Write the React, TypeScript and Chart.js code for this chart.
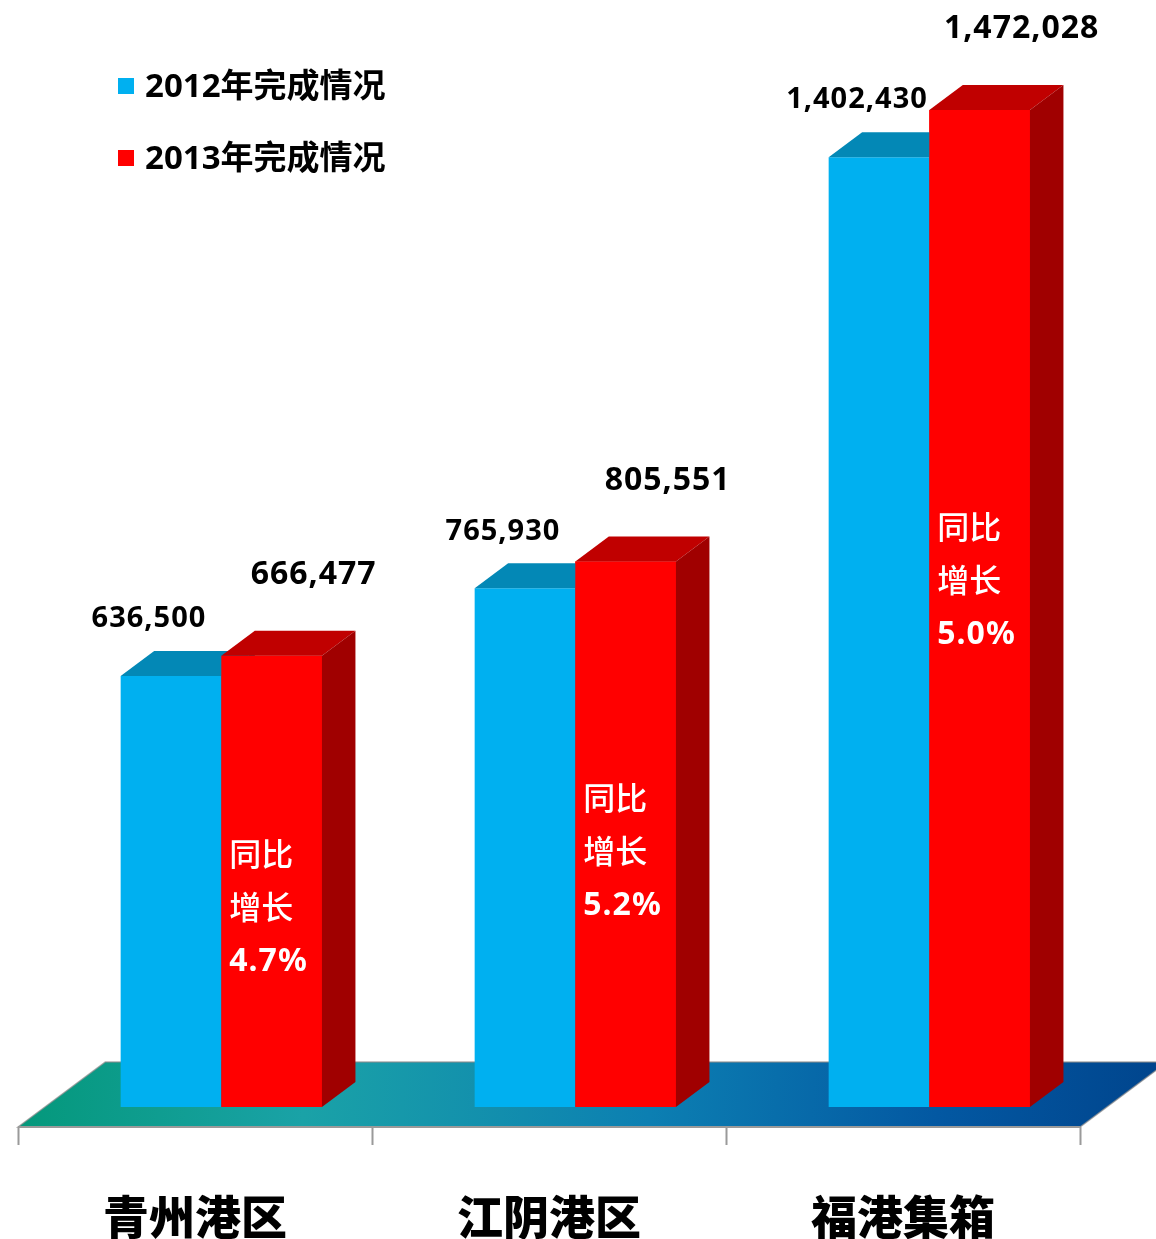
import React, { useEffect, useRef } from 'react';
import { Chart, registerables } from 'chart.js';

Chart.register(...registerables);

// ---- data ----
const categories = ['青州港区', '江阴港区', '福港集箱'];
const seriesNames = ['2012年完成情况', '2013年完成情况'];
const values2012 = [636500, 765930, 1402430];
const values2013 = [666477, 805551, 1472028];
const growthWords = ['同比', '增长'];
const growthRates = ['4.7%', '5.2%', '5.0%'];

// ---- styles ----
const frontColors = ['#00B0F0', '#FF0000'];
const topColors = ['#0388B6', '#C00000'];
const sideColors = ['#00749C', '#A00000'];
const DEPTH = { x: 33.5, y: -25 };
const FLOOR_FRONT = { x: -26.3, y: 20 };
const FLOOR_BACK = { x: 61, y: -45 };
const NUM_FONT = '"Noto Sans", "Noto Sans CJK SC", sans-serif';
const CJK_FONT = '"Noto Sans CJK SC", "Noto Sans", sans-serif';

const fmt = (v: number) => v.toLocaleString('en-US');

const pseudo3d = {
  id: 'pseudo3d',
  beforeDatasetsDraw(chart: any) {
    const { ctx, chartArea, scales } = chart;
    const y0 = scales.y.getPixelForValue(0);
    const l = chartArea.left;
    const r = chartArea.right;
    const fl = l + FLOOR_FRONT.x, fr = r + FLOOR_FRONT.x, fy = y0 + FLOOR_FRONT.y;
    const bl = l + FLOOR_BACK.x, br = r + FLOOR_BACK.x, by = y0 + FLOOR_BACK.y;
    ctx.save();
    const g = ctx.createLinearGradient(fl, by, br, fy);
    g.addColorStop(0, '#04987A');
    g.addColorStop(0.25, '#1AA2A7');
    g.addColorStop(0.55, '#0C7FB2');
    g.addColorStop(0.8, '#0358A2');
    g.addColorStop(1, '#00448C');
    ctx.beginPath();
    ctx.moveTo(fl, fy);
    ctx.lineTo(bl, by);
    ctx.lineTo(br, by);
    ctx.lineTo(fr, fy);
    ctx.closePath();
    ctx.fillStyle = g;
    ctx.fill();
    ctx.strokeStyle = 'rgba(140,140,140,0.7)';
    ctx.lineWidth = 1.5;
    ctx.stroke();
    // front edge + ticks
    ctx.strokeStyle = '#9a9a9a';
    ctx.lineWidth = 2;
    ctx.beginPath();
    ctx.moveTo(fl, fy);
    ctx.lineTo(fr, fy);
    const n = categories.length;
    const w = (r - l) / n;
    for (let i = 0; i <= n; i++) {
      const x = Math.round(fl + i * w) + 0.5;
      ctx.moveTo(x, fy);
      ctx.lineTo(x, fy + 18);
    }
    ctx.stroke();
    // category labels
    ctx.fillStyle = '#000';
    ctx.font = `900 46px ${CJK_FONT}`;
    ctx.textAlign = 'center';
    ctx.textBaseline = 'middle';
    chart.data.labels.forEach((lab: string, i: number) => {
      const x = scales.x.getPixelForTick(i) + FLOOR_FRONT.x;
      ctx.fillText(lab, x, y0 + 110);
    });
    ctx.restore();
  },
  afterDatasetsDraw(chart: any) {
    const { ctx, scales, chartArea } = chart;
    ctx.save();
    // 3D faces: blue first, then red (front re-painted on top)
    [0, 1].forEach((di) => {
      const meta = chart.getDatasetMeta(di);
      meta.data.forEach((bar: any) => {
        if (di === 1) bar.draw(ctx, chartArea);
        const w = bar.width;
        const left = bar.x - w / 2;
        const right = bar.x + w / 2;
        const top = bar.y;
        const bottom = bar.base;
        ctx.beginPath();
        ctx.moveTo(left, top);
        ctx.lineTo(left + DEPTH.x, top + DEPTH.y);
        ctx.lineTo(right + DEPTH.x, top + DEPTH.y);
        ctx.lineTo(right, top);
        ctx.closePath();
        ctx.fillStyle = topColors[di];
        ctx.fill();
        ctx.beginPath();
        ctx.moveTo(right, top);
        ctx.lineTo(right + DEPTH.x, top + DEPTH.y);
        ctx.lineTo(right + DEPTH.x, bottom + DEPTH.y);
        ctx.lineTo(right, bottom);
        ctx.closePath();
        ctx.fillStyle = sideColors[di];
        ctx.fill();
      });
    });

    ctx.textBaseline = 'middle';
    // value labels
    const m0 = chart.getDatasetMeta(0);
    const m1 = chart.getDatasetMeta(1);
    ctx.fillStyle = '#000';
    ctx.textAlign = 'center';
    (ctx as any).letterSpacing = '1px';
    ctx.font = `bold 29px ${NUM_FONT}`;
    m0.data.forEach((bar: any, i: number) => {
      ctx.fillText(fmt(values2012[i]), bar.x - 22, bar.y - 57);
    });
    ctx.font = `bold 32px ${NUM_FONT}`;
    m1.data.forEach((bar: any, i: number) => {
      ctx.fillText(fmt(values2013[i]), bar.x + 42, bar.y - 81);
    });
    // growth notes inside red bars
    ctx.fillStyle = '#fff';
    ctx.textAlign = 'left';
    m1.data.forEach((bar: any, i: number) => {
      const left = bar.x - bar.width / 2 + 8;
      const top = scales.y.getPixelForValue(values2013[i] * 0.6);
      (ctx as any).letterSpacing = '0px';
      ctx.font = `500 32px ${CJK_FONT}`;
      ctx.fillText(growthWords[0], left, top + 18);
      ctx.fillText(growthWords[1], left, top + 71);
      (ctx as any).letterSpacing = '1px';
      ctx.font = `bold 32px ${NUM_FONT}`;
      ctx.fillText(growthRates[i], left, top + 126);
    });
    // legend
    (ctx as any).letterSpacing = '0px';
    const legendY = [86, 158];
    chart.data.datasets.forEach((ds: any, i: number) => {
      ctx.fillStyle = ds.backgroundColor;
      ctx.fillRect(118, legendY[i] - 8, 16, 16);
      ctx.fillStyle = '#000';
      ctx.font = `bold 33px ${NUM_FONT}`;
      ctx.textAlign = 'left';
      ctx.fillText(ds.label, 145, legendY[i] + 2);
    });
    ctx.restore();
  },
};

export default function App() {
  const ref = useRef<HTMLCanvasElement | null>(null);
  useEffect(() => {
    if (!ref.current) return;
    const chart = new Chart(ref.current, {
      type: 'bar',
      data: {
        labels: categories,
        datasets: [
          {
            label: seriesNames[0],
            data: values2012,
            backgroundColor: frontColors[0],
            borderWidth: 0,
            categoryPercentage: 0.5686,
            barPercentage: 1,
          },
          {
            label: seriesNames[1],
            data: values2013,
            backgroundColor: frontColors[1],
            borderWidth: 0,
            categoryPercentage: 0.5686,
            barPercentage: 1,
          },
        ],
      },
      options: {
        responsive: false,
        maintainAspectRatio: false,
        devicePixelRatio: 1,
        animation: false,
        layout: { padding: { left: 44.3, right: 49.7, top: 23.4, bottom: 132 } },
        scales: {
          x: { display: false },
          y: { display: false, min: 0, max: 1600000 },
        },
        plugins: {
          legend: { display: false },
          tooltip: { enabled: false },
        },
      },
      plugins: [pseudo3d],
    } as any);
    return () => chart.destroy();
  }, []);
  return (
    <div style={{ position: 'fixed', left: 0, top: 0, width: 1156, height: 1239, background: '#fff' }}>
      <canvas ref={ref} width={1156} height={1239} style={{ display: 'block' }} />
    </div>
  );
}
